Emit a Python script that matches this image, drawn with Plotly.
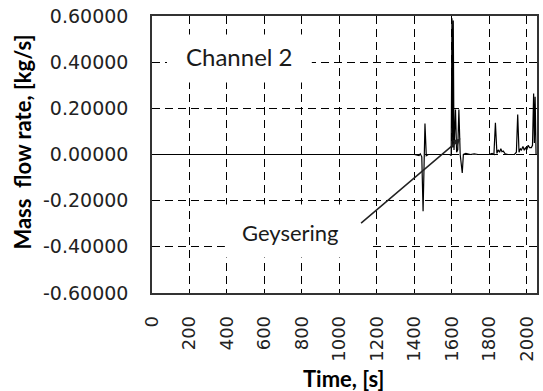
import plotly.graph_objects as go

# ---- data ----
time_s = [0, 1400, 1425, 1432, 1440, 1447, 1457, 1464, 1475,
          1590, 1597, 1601, 1605, 1608, 1612, 1620, 1626, 1632, 1638, 1645, 1656, 1662, 1675,
          1700, 1720, 1740, 1770, 1800, 1815, 1825, 1833, 1841, 1848, 1855, 1862, 1868, 1875, 1885,
          1900, 1935, 1945, 1952, 1959, 1966, 1972, 1980, 1987, 1994, 2000, 2008, 2015, 2025,
          2031, 2037, 2041, 2045, 2050]
mass_flow = [0.0, 0.0, -0.005, 0.003, -0.01, -0.246, 0.134, -0.005, 0.0,
             0.0, -0.005, 0.59, 0.03, 0.58, 0.02, 0.195, 0.01, 0.02, 0.195, 0.0, -0.08, 0.0, 0.005,
             0.0, 0.003, 0.0, 0.0, 0.0, 0.005, 0.0, 0.137, 0.005, 0.02, 0.01, 0.025, 0.012, 0.015, 0.003,
             0.0, 0.0, 0.01, 0.173, 0.01, 0.025, 0.02, 0.035, 0.018, 0.03, 0.02, 0.04, 0.03, 0.03,
             0.04, 0.264, 0.05, 0.25, 0.0]

x_ticks = [0, 200, 400, 600, 800, 1000, 1200, 1400, 1600, 1800, 2000]
y_ticks = [-0.6, -0.4, -0.2, 0.0, 0.2, 0.4, 0.6]
y_tick_labels = ["-0.60000", "-0.40000", "-0.20000", "0.00000", "0.20000", "0.40000", "0.60000"]

fig = go.Figure()
fig.add_trace(go.Scatter(x=time_s, y=mass_flow, mode="lines",
                         line=dict(color="black", width=1.2), showlegend=False))

fig.update_layout(
    width=543, height=391,
    margin=dict(l=152, r=6, t=16, b=98, autoexpand=False),
    paper_bgcolor="white", plot_bgcolor="white",
    xaxis=dict(range=[0, 2055], tickvals=x_ticks, ticktext=[str(v) for v in x_ticks],
               tickangle=-90, tickfont=dict(family="DejaVu Sans", size=18, color="#222222"),
               ticks="", ticklabelstandoff=14, automargin=False,
               showgrid=True, gridcolor="black", gridwidth=1.4, griddash="8px,5px",
               zeroline=False, showline=True, linecolor="#333333", linewidth=1.5, mirror=True),
    yaxis=dict(range=[-0.6, 0.6], tickvals=y_ticks, ticktext=y_tick_labels,
               tickfont=dict(family="DejaVu Sans", size=19, color="#222222"), ticks="",
               ticklabelstandoff=18, automargin=False,
               showgrid=True, gridcolor="black", gridwidth=1.4, griddash="8px,5px",
               zeroline=False, showline=True, linecolor="#333333", linewidth=1.5, mirror=True),
    shapes=[
        dict(type="rect", xref="x", yref="y", x0=80, x1=853, y0=0.312, y1=0.52,
             fillcolor="white", line=dict(width=0), layer="between"),
        dict(type="rect", xref="x", yref="y", x0=389, x1=1172, y0=-0.446, y1=-0.2166,
             fillcolor="white", line=dict(width=0), layer="between"),
    ],
    annotations=[
        dict(text="Channel 2", x=469, y=0.425, xref="x", yref="y", showarrow=False,
             xanchor="center", yanchor="middle",
             font=dict(family="Lato", size=24, color="#1a1a1a")),
        dict(text="Geysering", x=738, y=-0.34, xref="x", yref="y", showarrow=False,
             xanchor="center", yanchor="middle",
             font=dict(family="Lato", size=22, color="#1a1a1a")),
        dict(text="", x=1647, y=0.069, xref="x", yref="y", ax=1108, ay=-0.303,
             axref="x", ayref="y", showarrow=True, arrowhead=2, arrowsize=1,
             arrowwidth=1.5, arrowcolor="#222222"),
        dict(text="<b>Mass  flow rate, [kg/s]</b>", xref="paper", yref="paper",
             x=-0.335, y=0.543, textangle=-90, showarrow=False,
             xanchor="center", yanchor="middle",
             font=dict(family="Lato", size=22, color="black")),
        dict(text="<b>Time, [s]</b>", xref="paper", yref="paper",
             x=0.499, y=-0.307, showarrow=False,
             xanchor="center", yanchor="middle",
             font=dict(family="Lato", size=22, color="black")),
    ],
)

fig.write_html("out.html", config={"displayModeBar": False},
               post_script="document.body.style.margin='0';document.body.style.overflow='hidden';")
